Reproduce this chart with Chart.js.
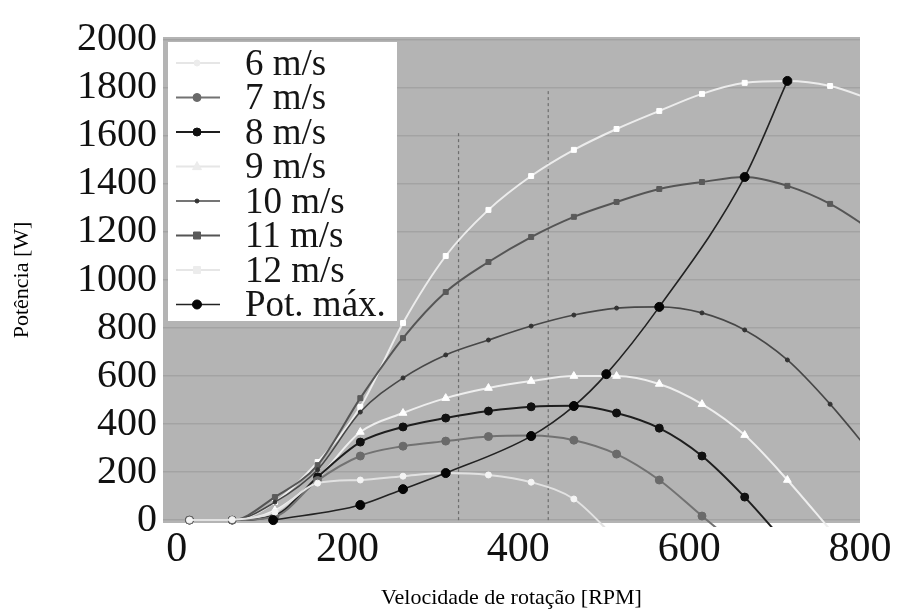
<!DOCTYPE html>
<html><head><meta charset="utf-8">
<script src="https://cdn.jsdelivr.net/npm/chart.js@4.4.1/dist/chart.umd.min.js"></script>
<style>html,body{margin:0;padding:0;background:#fff;}#wrap{width:900px;height:615px;}</style>
</head><body><div id="wrap"><canvas id="c" width="900" height="615"></canvas></div>
<script>
// Sample rotation speeds (RPM)
const rpm = [15,65,115,165,215,265,315,365,415,465,515,565,615,665,715,765,815];
// Power (W) per wind speed, index-aligned with rpm
const p6  = [0,2,33,154,167,183,196,188,158,88,-80];
const p7  = [0,0,15,165,267,308,329,348,352,333,275,167,17,-130];
const p8  = [0,0,20,180,325,388,425,454,472,476,446,383,267,96,-104];
const p9  = [0,0,40,175,367,446,508,550,579,600,600,567,483,354,167,-40];
const p10 = [0,0,75,210,450,592,688,750,808,854,883,888,863,792,667,483,270];
const p11 = [0,0,96,229,508,758,950,1075,1179,1263,1325,1379,1408,1429,1392,1317,1205];
const p12 = [0,0,75,242,471,821,1100,1292,1433,1542,1629,1704,1775,1821,1829,1808,1750];
// Maximum power curve
const potRpm = [113,215,265,315,415,465,503,565,665,715];
const potMax = [0,63,129,196,350,475,608,888,1429,1829];
// Vertical reference lines (RPM, top in W)
const refRpm = [330,435];
const refTop = [1612,1792];
const xTicks = [0,200,400,600,800];
const yTicks = [0,200,400,600,800,1000,1200,1400,1600,1800,2000];
const labels = ['6 m/s','7 m/s','8 m/s','9 m/s','10 m/s','11 m/s','12 m/s','Pot. máx.'];

const pts = (xs, ys) => ys.map((v, i) => ({x: xs[i], y: v}));
const serif = 'Liberation Serif, Times New Roman, serif';

const styles = [
  {line:'#e2e2e2', pt:'#f4f4f4', ptB:'#f4f4f4', r:3, ps:'circle', w:2},
  {line:'#727272', pt:'#6a6a6a', ptB:'#6a6a6a', r:4, ps:'circle', w:2},
  {line:'#1e1e1e', pt:'#111111', ptB:'#111111', r:4, ps:'circle', w:2},
  {line:'#eeeeee', pt:'#ffffff', ptB:'#ffffff', r:4.5, ps:'triangle', w:2},
  {line:'#474747', pt:'#333333', ptB:'#333333', r:2, ps:'circle', w:1.6},
  {line:'#555555', pt:'#5a5a5a', ptB:'#5a5a5a', r:3.5, ps:'rect', w:2},
  {line:'#ececec', pt:'#ffffff', ptB:'#ffffff', r:3.5, ps:'rect', w:2},
  {line:'#222222', pt:'#050505', ptB:'#050505', r:4.5, ps:'circle', w:1.6}
];
const seriesData = [p6,p7,p8,p9,p10,p11,p12].map(a => pts(rpm, a));
seriesData.push(pts(potRpm, potMax));

const datasets = seriesData.map((d, i) => ({
  label: labels[i], data: d, order: i === 7 ? 0 : i + 1,
  borderColor: styles[i].line, borderWidth: styles[i].w,
  pointBackgroundColor: styles[i].pt, pointBorderColor: styles[i].ptB,
  pointRadius: styles[i].r, pointStyle: styles[i].ps, pointBorderWidth: 1,
  cubicInterpolationMode: 'monotone', fill: false,
  clip: {left: 5, top: 5, right: 0, bottom: 4}
}));
refRpm.forEach((r, i) => datasets.push({
  label: '', data: [{x: r, y: 0}, {x: r, y: refTop[i]}], order: 20,
  borderColor: '#6e6e6e', borderWidth: 1.2, borderDash: [3, 3],
  pointRadius: 0, fill: false, clip: 0
}));

function drawMarker(ctx, st, x, y) {
  ctx.fillStyle = st.pt; ctx.strokeStyle = st.ptB; ctx.lineWidth = 1;
  const r = st.r;
  ctx.beginPath();
  if (st.ps === 'rect') { ctx.rect(x - r, y - r, 2*r, 2*r); }
  else if (st.ps === 'triangle') { ctx.moveTo(x, y - r*1.1); ctx.lineTo(x + r, y + r*0.7); ctx.lineTo(x - r, y + r*0.7); ctx.closePath(); }
  else { ctx.arc(x, y, r, 0, Math.PI*2); }
  ctx.fill(); ctx.stroke();
}

const bgPlugin = {
  id: 'bg',
  beforeDraw(chart) {
    const {ctx, chartArea: a} = chart;
    ctx.save();
    ctx.fillStyle = '#ffffff'; ctx.fillRect(0, 0, chart.width, chart.height);
    ctx.fillStyle = '#b4b4b4'; ctx.fillRect(a.left, a.top, a.right - a.left, a.bottom - a.top);
    ctx.restore();
  }
};
const legendPlugin = {
  id: 'boxLegend',
  afterDatasetsDraw(chart) {
    const {ctx, chartArea: a} = chart;
    const L = a.left + 5, T = a.top + 5;
    ctx.save();
    ctx.fillStyle = '#ffffff';
    ctx.fillRect(L, T, 229, 279);
    ctx.font = '37px ' + serif;
    ctx.textBaseline = 'middle';
    labels.forEach((lab, i) => {
      const y = T + 21 + i * 34.5;
      const st = styles[i];
      const light = st.pt === '#ffffff' || st.pt === '#f4f4f4';
      ctx.strokeStyle = light ? '#e6e6e6' : st.line;
      ctx.lineWidth = st.w;
      ctx.beginPath(); ctx.moveTo(L + 8, y); ctx.lineTo(L + 52, y); ctx.stroke();
      drawMarker(ctx, light ? Object.assign({}, st, {pt:'#ececec', ptB:'#ececec'}) : st, L + 29, y);
      ctx.fillStyle = '#151515';
      ctx.fillText(lab, L + 77, y + 2);
    });
    ctx.restore();
  }
};

new Chart(document.getElementById('c'), {
  type: 'line',
  data: {datasets},
  plugins: [bgPlugin, legendPlugin],
  options: {
    responsive: false, animation: false, devicePixelRatio: 1,
    layout: {padding: {top: 37, right: 40, bottom: 0, left: 0}},
    plugins: {legend: {display: false}, tooltip: {enabled: false}},
    scales: {
      x: {
        type: 'linear', min: -16, max: 800,
        grid: {display: false}, border: {display: false},
        afterBuildTicks: s => { s.ticks = xTicks.map(v => ({value: v})); },
        ticks: {font: {family: serif, size: 42}, color: '#111', padding: -6, maxRotation: 0, autoSkip: false, callback: v => String(v)},
        title: {display: true, text: 'Velocidade de rotação [RPM]', font: {family: serif, size: 22}, color: '#000', padding: {top: 0, bottom: 4}},
        afterFit: s => { s.height = 92; }
      },
      y: {
        type: 'linear', min: -12, max: 2012,
        grid: {color: '#a3a3a3', lineWidth: 1.5, drawTicks: false}, border: {display: false},
        afterBuildTicks: s => { s.ticks = yTicks.map(v => ({value: v})); },
        ticks: {font: {family: serif, size: 40}, color: '#111', padding: 6, autoSkip: false, callback: v => String(v)},
        title: {display: true, text: 'Potência [W]', font: {family: serif, size: 22}, color: '#000', padding: {top: 9, bottom: 0}},
        afterFit: s => { s.width = 163; }
      }
    }
  }
});
</script></body></html>
